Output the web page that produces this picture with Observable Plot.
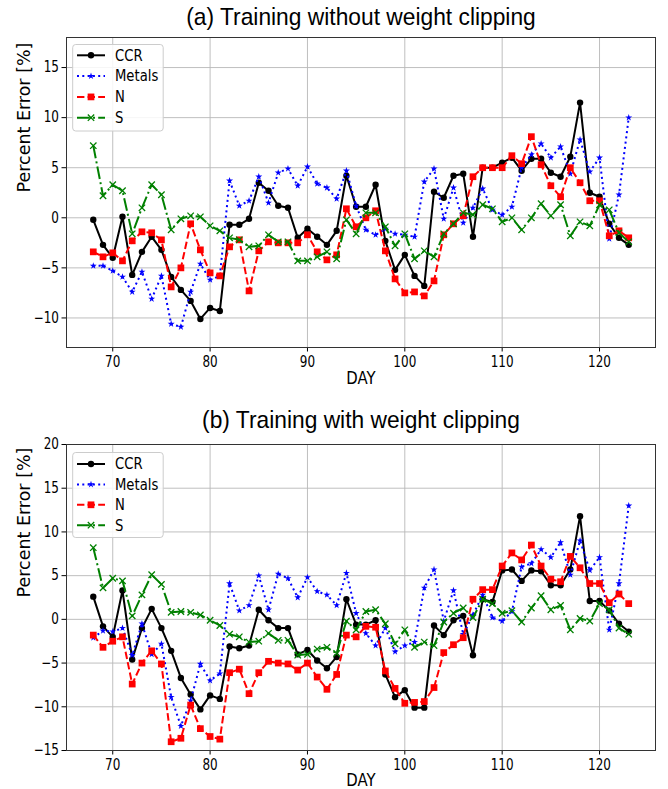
<!DOCTYPE html>
<html><head><meta charset="utf-8">
<script src="https://cdn.jsdelivr.net/npm/d3@7"></script>
<script src="https://cdn.jsdelivr.net/npm/@observablehq/plot@0.6"></script>
<style>
body{margin:0;background:#fff;}
#wrap{position:relative;width:668px;height:789px;font-family:"DejaVu Sans",sans-serif;overflow:hidden;}
.panel{position:absolute;left:0;}
</style></head><body><div id="wrap"></div>
<script>
const days = [68,69,70,71,72,73,74,75,76,77,78,79,80,81,82,83,84,85,86,87,88,89,90,91,92,93,94,95,96,97,98,99,100,101,102,103,104,105,106,107,108,109,110,111,112,113,114,115,116,117,118,119,120,121,122,123];
const xTicks = [70,80,90,100,110,120];
const seriesNames = ["CCR","Metals","N","S"];

// (a) Training without weight clipping
const aCCR = [-0.2,-2.7,-4.0,0.1,-5.7,-3.4,-1.9,-3.2,-5.9,-7.2,-8.3,-10.1,-9.0,-9.3,-0.7,-0.7,-0.1,3.5,
  2.7,1.2,1.0,-2.0,-1.1,-1.9,-2.7,-1.3,4.2,1.1,1.1,3.3,-2.3,-5.2,-3.7,-5.8,-6.8,2.6,2.0,
  4.2,4.4,-1.9,5.0,5.0,5.5,6.0,4.7,5.9,5.9,4.5,4.1,6.1,11.5,2.5,2.1,-0.6,-2.0,-2.7];
const aMetals = [-4.8,-4.8,-5.3,-5.9,-7.4,-5.4,-8.1,-5.8,-10.6,-10.9,-7.4,-4.6,-6.2,-5.8,3.7,1.2,1.7,4.1,
  1.5,4.5,4.9,3.2,5.1,3.4,3.0,1.9,4.7,1.2,-1.2,-1.7,-1.1,-1.6,-1.7,-1.9,3.6,4.9,-0.1,
  3.0,-0.5,1.0,2.9,0.8,0.3,1.1,5.0,6.3,7.4,6.0,7.1,4.4,7.8,4.6,6.0,-2.1,2.3,10.0];
const aN = [-3.4,-3.9,-3.5,-4.3,-2.3,-1.4,-1.5,-2.2,-6.9,-5.0,-0.6,-3.2,-5.5,-5.8,-2.9,-2.2,-7.3,-3.3,
  -2.4,-2.5,-2.5,-2.5,-1.7,-3.4,-4.2,-3.7,0.9,-0.9,0.0,0.7,-3.3,-6.1,-7.5,-7.4,-7.8,-6.3,-1.7,
  -0.6,0.2,4.1,5.0,5.0,5.0,6.2,5.4,8.1,5.3,3.2,2.1,5.0,3.5,1.7,1.7,-1.8,-1.3,-2.0];
const aS = [7.2,2.2,3.3,2.7,-1.6,1.0,3.3,2.3,-1.2,-0.1,0.2,0.1,-0.8,-1.3,-2.0,-2.2,-2.9,-2.8,
  -1.7,-2.4,-2.4,-4.3,-4.3,-3.9,-3.4,-4.1,-0.2,-1.6,0.5,0.5,-0.9,-2.8,-1.6,-4.1,-3.3,-3.9,-1.6,
  -0.6,0.5,0.3,1.3,0.9,-0.4,0.0,-1.2,0.0,1.4,0.2,1.3,-1.8,-0.4,-0.8,1.3,0.8,-1.5,-2.4];

// (b) Training with weight clipping
const bCCR = [2.6,-0.8,-2.0,3.3,-4.6,-1.0,1.2,-1.0,-3.6,-6.7,-8.6,-10.3,-8.7,-9.1,-3.1,-3.3,-3.0,1.1,
  -0.1,-1.0,-1.0,-4.0,-3.5,-4.7,-5.6,-4.3,2.3,-0.6,-0.6,-0.1,-6.3,-8.9,-8.1,-10.1,-10.1,-0.7,-1.8,
  -0.1,0.4,-4.1,2.3,2.0,5.6,5.7,4.4,5.6,5.5,3.9,3.9,5.7,11.8,2.1,2.1,1.0,-0.5,-1.4];
const bMetals = [-2.1,-1.3,-1.4,-1.0,-4.1,-0.5,-4.0,-2.8,-8.9,-12.2,-9.3,-5.1,-7.0,-6.2,4.1,1.0,1.6,5.0,
  1.1,5.2,4.7,2.5,4.8,3.2,2.8,1.6,5.3,0.7,-1.6,-3.0,-1.0,-3.7,-3.0,-2.6,3.6,5.7,-0.2,
  3.3,-1.7,0.5,2.8,0.2,-0.2,0.9,6.0,6.4,8.0,7.1,8.8,5.1,9.0,5.6,7.1,-1.2,4.1,13.0];
const bN = [-1.8,-3.2,-2.5,-2.0,-7.4,-5.0,-3.6,-5.1,-14.0,-13.6,-9.8,-12.5,-13.4,-13.7,-6.1,-5.7,-8.5,-6.1,
  -4.8,-5.0,-5.1,-5.8,-5.0,-6.6,-8.0,-6.3,-1.8,-2.0,-0.8,-0.9,-5.9,-7.9,-9.6,-9.5,-9.4,-7.8,-3.8,
  -2.9,-2.1,2.3,3.4,3.4,6.1,7.6,6.8,8.5,6.1,4.6,4.3,7.2,5.9,4.1,4.1,1.9,2.9,1.8];
const bS = [8.2,3.6,4.7,4.4,0.4,2.8,5.1,4.0,0.8,0.9,0.8,0.5,-0.1,-0.7,-1.7,-2.0,-2.6,-2.5,
  -1.6,-2.4,-2.4,-4.1,-4.0,-3.4,-3.2,-3.9,-0.2,-1.2,0.9,1.1,-0.5,-2.8,-1.2,-3.2,-2.6,-3.0,-0.3,
  0.7,1.3,0.2,2.3,1.8,0.7,1.0,-0.3,1.3,2.7,1.1,1.6,-1.2,0.1,-0.2,1.8,1.1,-1.0,-1.7];

const aYTicks = [-10,-5,0,5,10,15];
const bYTicks = [-15,-10,-5,0,5,10,15,20];

const styles = [
  {color:"#000000", dash:null,               symbol:"circle", r:3.2, filled:true},
  {color:"#0000ff", dash:"2,3.3",            symbol:"star",   r:2.2, filled:true},
  {color:"#ff0000", dash:"7.4,3.2",          symbol:"square", r:3.8, filled:true},
  {color:"#008000", dash:"12.8,3.2,2,3.2",   symbol:"times",  r:3.0, filled:false}
];
const FONT = "'DejaVu Sans', sans-serif";
const TITLE_FONT = "'Liberation Sans', Arial, sans-serif";
const fmt = d => d < 0 ? "\u2212" + Math.abs(d) : String(d);

// horizontally condense a text element about its anchor point
function squeezeText(t, k) {
  const ax = parseFloat(t.getAttribute("x")) || 0;
  const tr = t.getAttribute("transform") || "";
  t.setAttribute("transform", `${tr} translate(${ax},0) scale(${k},1) translate(${-ax},0)`);
}

function makePanel(cfg) {
  const marks = [
    Plot.ruleX(xTicks, {stroke:"#b8b8b8", strokeWidth:0.9}),
    Plot.ruleY(cfg.yTicks, {stroke:"#b8b8b8", strokeWidth:0.9})
  ];
  cfg.values.forEach((vals, k) => {
    const st = styles[k];
    const data = days.map((d, i) => ({day:d, value:vals[i], series:seriesNames[k]}));
    marks.push(Plot.line(data, {x:"day", y:"value", stroke:st.color, strokeWidth:2, strokeDasharray:st.dash, strokeLinecap:"butt", strokeLinejoin:"round"}));
    marks.push(Plot.dot(data, {x:"day", y:"value", symbol:st.symbol, r:st.r,
      fill: st.filled ? st.color : "none", stroke: st.filled ? "none" : st.color, strokeWidth:1.3}));
  });
  marks.push(Plot.frame({stroke:"#333", strokeWidth:1}));
  marks.push(Plot.text([cfg.title], {text:d=>d, frameAnchor:"top", lineAnchor:"middle", dy:cfg.titleDy, fontSize:24, fontFamily:TITLE_FONT, fill:"#000"}));
  marks.push(Plot.text(["DAY"], {text:d=>d, frameAnchor:"bottom", lineAnchor:"middle", dy:cfg.dayDy, fontSize:17.5, fill:"#000"}));
  marks.push(Plot.text(["Percent Error [%]"], {text:d=>d, frameAnchor:"left", lineAnchor:"middle", dx:-42, rotate:-90, fontSize:17.5, fill:"#000"}));
  const svg = Plot.plot({
    width:668, height:cfg.height,
    marginLeft:66, marginRight:13, marginTop:cfg.marginTop, marginBottom:cfg.marginBottom,
    style:{fontFamily:FONT, fontSize:"15px", background:"white", color:"#000", overflow:"visible"},
    x:{domain:[65.25,125.75], ticks:xTicks, tickFormat:fmt, tickSize:4.5, tickPadding:4, label:null},
    y:{domain:cfg.yDomain, ticks:cfg.yTicks, tickFormat:fmt, tickSize:4.5, tickPadding:3, label:null},
    marks
  });
  svg.querySelectorAll("text").forEach(t => {
    const s = t.textContent;
    if (s === "Percent Error [%]") return;
    if (s === cfg.title) squeezeText(t, 0.95);
    else if (s === "DAY") squeezeText(t, 0.85);
    else squeezeText(t, 0.8);
  });
  return svg;
}

function makeLegend(top, rowStart, rowStep, boxH) {
  const symMap = {circle:d3.symbolCircle, star:d3.symbolStar, square:d3.symbolSquare, times:(d3.symbolTimes||d3.symbolCross)};
  const svg = d3.create("svg").attr("width",100).attr("height",boxH+4)
    .style("position","absolute").style("left","70px").style("top",top+"px").style("font-family",FONT);
  svg.append("rect").attr("x",2.7).attr("y",0.5).attr("width",90.5).attr("height",boxH).attr("rx",3)
    .attr("fill","white").attr("fill-opacity",0.85).attr("stroke","#cccccc").attr("stroke-width",1);
  seriesNames.forEach((name, i) => {
    const st = styles[i];
    const cy = rowStart + i*rowStep;
    svg.append("line").attr("x1",7).attr("x2",35).attr("y1",cy).attr("y2",cy)
      .attr("stroke",st.color).attr("stroke-width",2).attr("stroke-dasharray",st.dash);
    svg.append("path").attr("d", d3.symbol(symMap[st.symbol], Math.PI*st.r*st.r)())
      .attr("transform",`translate(21,${cy})`)
      .attr("fill", st.filled ? st.color : "none").attr("stroke", st.filled ? "none" : st.color).attr("stroke-width",1.3);
    svg.append("text").attr("x",45).attr("y",cy).attr("dy","0.36em").attr("font-size",15).attr("fill","#000")
      .attr("transform",`translate(45,0) scale(0.88,1) translate(-45,0)`).text(name);
  });
  return svg.node();
}

const wrap = document.getElementById("wrap");
const pa = makePanel({title:"(a) Training without weight clipping", values:[aCCR,aMetals,aN,aS],
  yDomain:[-12.95,18.0], yTicks:aYTicks, height:395, marginTop:37, marginBottom:48, titleDy:-20, dayDy:31});
pa.classList.add("panel"); pa.style.top = "0px";
wrap.appendChild(pa);
const pb = makePanel({title:"(b) Training with weight clipping", values:[bCCR,bMetals,bN,bS],
  yDomain:[-15,20], yTicks:bYTicks, height:394, marginTop:49, marginBottom:39, titleDy:-24, dayDy:30});
pb.classList.add("panel"); pb.style.top = "395px";
wrap.appendChild(pb);
wrap.appendChild(makeLegend(44, 11.3, 20.8, 86.5));
wrap.appendChild(makeLegend(452, 12, 20.4, 85));
</script></body></html>
